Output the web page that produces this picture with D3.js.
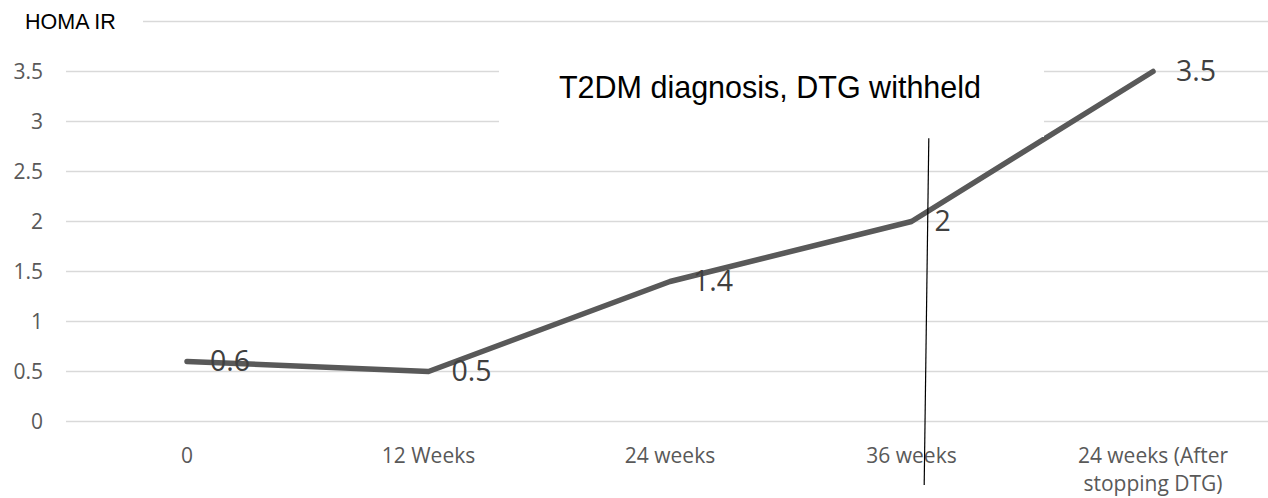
<!DOCTYPE html>
<html>
<head>
<meta charset="utf-8">
<script src="https://cdn.jsdelivr.net/npm/d3@7"></script>
<style>
  html, body { margin: 0; padding: 0; background: #fff; }
  svg { display: block; }
</style>
</head>
<body>
<svg id="chart" width="1268" height="498"></svg>
<script>
// data
const categories = ['0', '12 Weeks', '24 weeks', '36 weeks', '24 weeks (After\nstopping DTG)'];
const homaValues = [0.6, 0.5, 1.4, 2, 3.5];
const yTicks = [0, 0.5, 1, 1.5, 2, 2.5, 3, 3.5, 4];
const yAxisTitle = 'HOMA IR';
const noteText = 'T2DM diagnosis, DTG withheld';

const svg = d3.select('#chart');

const x = d3.scaleBand().domain(categories).range([66.25, 1273.75]);
const y = d3.scaleLinear().domain([0, 4]).range([421.5, 21.5]);
const cx = (c) => x(c) + x.bandwidth() / 2;

const calibriLike = '"Open Sans", "DejaVu Sans", sans-serif';
const arialLike = '"Liberation Sans", Arial, sans-serif';

// gridlines
svg.append('g')
  .selectAll('line')
  .data(yTicks)
  .join('line')
  .attr('x1', 66)
  .attr('x2', 1268)
  .attr('y1', (d) => y(d))
  .attr('y2', (d) => y(d))
  .attr('stroke', '#d9d9d9')
  .attr('stroke-width', 1.5);

// y tick labels (top one is replaced by the axis title)
svg.append('g')
  .selectAll('text')
  .data(yTicks.filter((d) => d < 4))
  .join('text')
  .attr('x', 43)
  .attr('y', (d) => y(d))
  .attr('dy', '0.35em')
  .attr('text-anchor', 'end')
  .attr('fill', '#595959')
  .style('font-family', calibriLike)
  .style('font-size', '21px')
  .text((d) => d);

// axis title with its own white box over the top gridline
svg.append('rect')
  .attr('x', 0).attr('y', 0)
  .attr('width', 143).attr('height', 40)
  .attr('fill', '#fff');
svg.append('text')
  .attr('x', 25)
  .attr('y', 28.5)
  .attr('fill', '#000')
  .style('font-family', arialLike)
  .style('font-size', '21.5px')
  .text(yAxisTitle);

// x category labels
const xLabels = svg.append('g')
  .selectAll('text')
  .data(categories)
  .join('text')
  .attr('x', (d) => cx(d))
  .attr('y', 463)
  .attr('text-anchor', 'middle')
  .attr('fill', '#595959')
  .style('font-family', calibriLike)
  .style('font-size', '21px');
xLabels.each(function (d) {
  const t = d3.select(this);
  d.split('\n').forEach((part, i) => {
    t.append('tspan')
      .attr('x', cx(d))
      .attr('dy', i === 0 ? 0 : 28)
      .text(part);
  });
});

// series line
const points = categories.map((c, i) => ({ c, v: homaValues[i] }));
const line = d3.line().x((d) => cx(d.c)).y((d) => y(d.v));

svg.append('path')
  .datum(points)
  .attr('d', line)
  .attr('fill', 'none')
  .attr('stroke', '#595959')
  .attr('stroke-width', 5.5)
  .attr('stroke-linejoin', 'round')
  .attr('stroke-linecap', 'round');

// data labels
svg.append('g')
  .selectAll('text')
  .data(points)
  .join('text')
  .attr('x', (d) => cx(d.c) + 23)
  .attr('y', (d) => y(d.v))
  .attr('dy', '0.35em')
  .attr('fill', '#404040')
  .style('font-family', calibriLike)
  .style('font-size', '28.5px')
  .text((d) => d.v);

// annotation text box (white, sits over gridlines and clips the line corner)
svg.append('rect')
  .attr('x', 499).attr('y', 45)
  .attr('width', 545).attr('height', 92)
  .attr('fill', '#fff');
svg.append('text')
  .attr('x', 770)
  .attr('y', 98)
  .attr('text-anchor', 'middle')
  .attr('fill', '#000')
  .style('font-family', arialLike)
  .style('font-size', '30.5px')
  .text(noteText);

// hand-drawn marker line at the diagnosis point
const markX = cx('36 weeks');
svg.append('line')
  .attr('x1', markX + 17.3).attr('y1', 138.3)
  .attr('x2', markX + 12.7).attr('y2', 485)
  .attr('stroke', '#000')
  .attr('stroke-width', 1.2);
</script>
</body>
</html>
